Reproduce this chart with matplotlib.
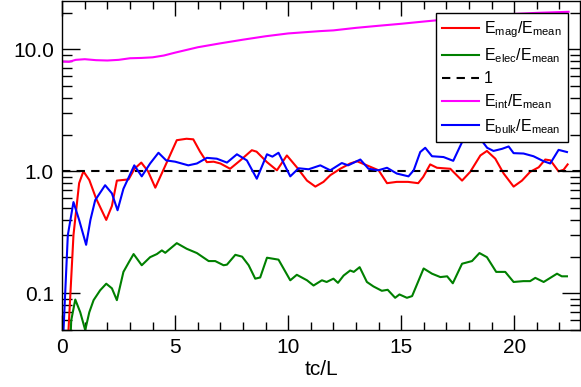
import matplotlib
matplotlib.use("Agg")
import matplotlib.pyplot as plt
import numpy as np
from matplotlib.ticker import LogLocator, MultipleLocator, NullFormatter

plt.rcParams["font.family"] = ["Liberation Sans", "DejaVu Sans"]
plt.rcParams["mathtext.fontset"] = "custom"
plt.rcParams["mathtext.rm"] = "Liberation Sans"
plt.rcParams["mathtext.it"] = "Liberation Sans"

# E_int / E_mean (magenta)
t_int = [0.0, 0.3, 0.6, 1.0, 1.5, 2.0, 2.5, 3.0, 3.5, 4.0, 4.5, 5.0, 6.0, 7.0, 8.0,
         9.0, 10.0, 11.4, 12.0, 13.0, 14.0, 15.0, 16.0, 17.0, 18.0, 19.0, 20.0, 21.0, 22.4]
e_int = [7.95, 7.9, 8.2, 8.3, 8.15, 8.1, 8.2, 8.45, 8.5, 8.6, 8.9, 9.4, 10.4, 11.2, 12.0,
         12.8, 13.5, 14.1, 14.3, 15.0, 15.6, 16.2, 16.9, 17.6, 18.4, 19.0, 19.5, 19.9, 20.3]

# E_mag / E_mean (red)
t_mag = [0.2, 0.28, 0.5, 0.75, 0.94, 1.2, 1.5, 1.95, 2.2, 2.42, 2.7, 2.94, 3.2, 3.5, 3.8,
         4.12, 4.5, 5.07, 5.5, 5.8, 6.1, 6.4, 6.7, 7.0, 7.43, 7.88, 8.39, 8.6, 9.06, 9.5,
         9.94, 10.38, 10.83, 11.2, 11.56, 11.86, 12.3, 12.74, 13.04, 13.48, 14.0, 14.37,
         14.8, 15.3, 15.75, 15.97, 16.28, 16.58, 17.17, 17.69, 18.05, 18.5, 18.79, 19.16,
         19.53, 19.97, 20.34, 20.7, 21.08, 21.37, 21.6, 21.96, 22.18, 22.36]
e_mag = [0.02, 0.05, 0.3, 0.8, 1.0, 0.85, 0.6, 0.40, 0.52, 0.84, 0.85, 0.86, 1.05, 1.18, 1.0,
         0.735, 1.05, 1.8, 1.85, 1.83, 1.45, 1.19, 1.2, 1.16, 1.05, 1.23, 1.49, 1.45, 1.19, 1.02,
         1.35, 1.08, 0.84, 0.75, 0.82, 0.93, 1.05, 1.16, 1.21, 1.12, 1.02, 0.80,
         0.82, 0.82, 0.80, 0.9, 1.14, 1.07, 1.05, 0.84, 0.99, 1.35, 1.47, 1.27,
         0.96, 0.75, 0.84, 0.99, 1.08, 1.25, 1.23, 1.0, 1.03, 1.14]

# E_elec / E_mean (green)
t_elec = [0.3, 0.4, 0.58, 0.8, 1.02, 1.2, 1.39, 1.68, 1.95, 2.2, 2.42, 2.71, 2.95, 3.16, 3.52,
          3.89, 4.19, 4.41, 4.56, 5.07, 5.51, 5.96, 6.48, 6.77, 7.14, 7.29, 7.66, 7.96, 8.25,
          8.54, 8.76, 9.06, 9.57, 10.09, 10.38, 10.83, 11.12, 11.49, 11.7, 12.0, 12.2, 12.45,
          12.74, 12.9, 13.16, 13.48, 13.77, 14.14, 14.4, 14.73, 14.92, 15.25, 15.48, 15.99,
          16.36, 16.73, 17.03, 17.28, 17.69, 18.13, 18.46, 18.79, 19.2, 19.6, 19.97, 20.4,
          20.7, 20.93, 21.3, 21.89, 22.1, 22.33]
e_elec = [0.02, 0.06, 0.089, 0.07, 0.05, 0.07, 0.088, 0.106, 0.12, 0.11, 0.088, 0.15, 0.18, 0.21, 0.17,
          0.198, 0.21, 0.225, 0.215, 0.258, 0.232, 0.214, 0.184, 0.184, 0.17, 0.172, 0.207, 0.2, 0.17,
          0.132, 0.135, 0.196, 0.189, 0.128, 0.142, 0.128, 0.116, 0.128, 0.124, 0.132, 0.122, 0.14,
          0.154, 0.15, 0.164, 0.124, 0.114, 0.105, 0.107, 0.092, 0.098, 0.092, 0.095, 0.16,
          0.145, 0.136, 0.138, 0.121, 0.175, 0.184, 0.214, 0.198, 0.15, 0.15, 0.124, 0.126,
          0.126, 0.134, 0.124, 0.145, 0.138, 0.138]

# E_bulk / E_mean (blue)
t_bulk = [0.0, 0.06, 0.25, 0.5, 0.75, 1.06, 1.25, 1.46, 1.9, 2.2, 2.45, 2.71, 3.19, 3.52, 3.89,
          4.26, 4.6, 5.0, 5.58, 5.96, 6.4, 6.84, 7.29, 7.73, 8.17, 8.61, 9.06, 9.3, 9.57, 10.09,
          10.46, 10.9, 11.42, 11.86, 12.37, 12.65, 13.19, 13.55, 13.98, 14.37, 14.8, 15.32, 15.55,
          15.84, 16.06, 16.36, 16.87, 17.3, 17.76, 18.13, 18.42, 18.8, 19.08, 19.46, 19.75, 19.97,
          20.41, 20.85, 21.3, 21.59, 21.96, 22.33]
e_bulk = [0.02, 0.05, 0.3, 0.56, 0.4, 0.25, 0.4, 0.58, 0.77, 0.66, 0.48, 0.72, 1.12, 0.91, 1.16,
          1.42, 1.23, 1.2, 1.12, 1.16, 1.29, 1.27, 1.18, 1.38, 1.23, 0.87, 1.38, 1.32, 1.42, 0.91,
          1.06, 1.04, 1.12, 1.02, 1.17, 1.12, 1.25, 1.05, 1.02, 1.07, 0.96, 0.91, 1.02,
          1.44, 1.56, 1.33, 1.31, 1.22, 1.85, 1.82, 1.93, 1.56, 1.47, 1.53, 1.6, 1.41,
          1.40, 1.33, 1.21, 1.16, 1.50, 1.44]

fig = plt.figure(figsize=(5.81, 3.87), dpi=100)
ax = fig.add_axes([0.107, 0.147, 0.891, 0.851])

lw = 1.5
ax.plot(t_mag, e_mag, color="#ff0000", lw=lw, label=r"E$_{\rm mag}$/E$_{\rm mean}$")
ax.plot(t_elec, e_elec, color="#008000", lw=lw, label=r"E$_{\rm elec}$/E$_{\rm mean}$")
ax.axhline(1.0, color="black", lw=lw, ls=(0, (4, 3)), label="1")
ax.plot(t_int, e_int, color="#ff00ff", lw=lw, label=r"E$_{\rm int}$/E$_{\rm mean}$")
ax.plot(t_bulk, e_bulk, color="#0000ff", lw=lw, label=r"E$_{\rm bulk}$/E$_{\rm mean}$")

ax.set_yscale("log")
ax.set_xlim(0, 22.9)
ax.set_ylim(0.05, 25)
ax.set_yticks([0.1, 1.0, 10.0])
ax.set_yticklabels(["0.1", "1.0", "10.0"])
ax.yaxis.set_minor_locator(LogLocator(base=10, subs=np.arange(2, 10)))
ax.yaxis.set_minor_formatter(NullFormatter())
ax.xaxis.set_major_locator(MultipleLocator(5))
ax.xaxis.set_minor_locator(MultipleLocator(1))

ax.tick_params(which="both", direction="in", top=True, right=True, labelsize=15, width=1)
ax.tick_params(axis="x", which="major", length=11, pad=6)
ax.tick_params(axis="x", which="minor", length=6)
ax.tick_params(axis="y", which="major", length=13, pad=6)
ax.tick_params(axis="y", which="minor", length=7)
for s in ax.spines.values():
    s.set_linewidth(1)

ax.set_xlabel("tc/L", fontsize=15, labelpad=2)

leg = ax.legend(loc="upper right", bbox_to_anchor=(0.977, 0.962), fontsize=11.5,
                frameon=True, fancybox=False, edgecolor="black", framealpha=1,
                handlelength=2.3, handletextpad=0.3, labelspacing=0.38, borderpad=0.4,
                borderaxespad=0)
leg.get_frame().set_linewidth(1)

fig.savefig("out.png", dpi=100)
